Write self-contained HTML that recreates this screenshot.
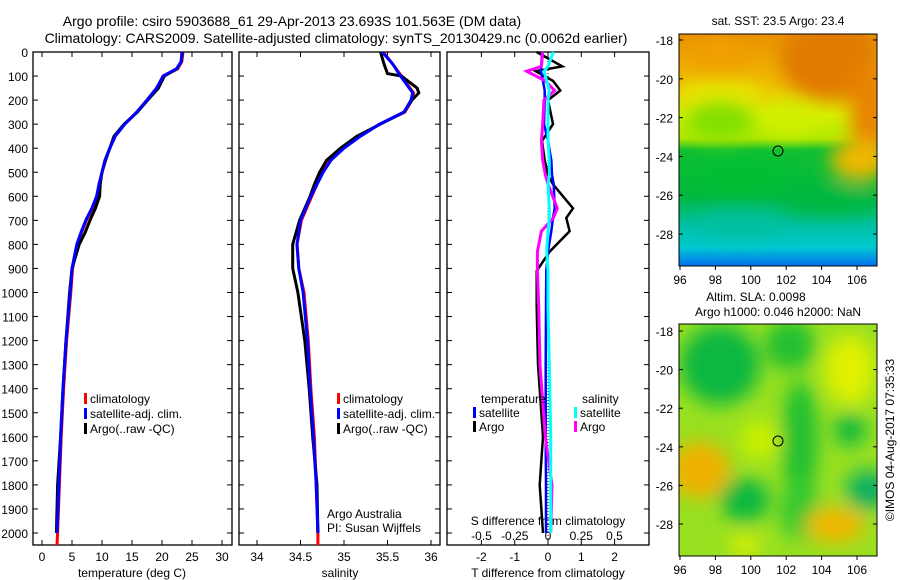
<!DOCTYPE html>
<html><head><meta charset="utf-8"><style>
body{margin:0;background:#fff;}
svg{display:block;font-family:"Liberation Sans",sans-serif;}
</style></head><body>
<svg id="c" width="900" height="580" viewBox="0 0 900 580">
<defs>
<filter id="bl" x="-20%" y="-20%" width="140%" height="140%"><feGaussianBlur stdDeviation="9"/></filter>
<clipPath id="m1"><rect x="679" y="34" width="198" height="232"/></clipPath>
<clipPath id="m2"><rect x="679" y="324" width="198" height="232"/></clipPath>
<linearGradient id="sst" x1="0" y1="0" x2="0" y2="1">
<stop offset="0" stop-color="#e89000"/><stop offset="0.2" stop-color="#f0b800"/><stop offset="0.35" stop-color="#d8f000"/><stop offset="0.45" stop-color="#b0e800"/><stop offset="0.5" stop-color="#10c030"/><stop offset="0.7" stop-color="#00b840"/><stop offset="0.82" stop-color="#00c0a0"/><stop offset="0.92" stop-color="#00c8d0"/><stop offset="1" stop-color="#0070f0"/>
</linearGradient>
</defs>
<g font-size="14" fill="#000" text-anchor="middle">
<text x="292" y="26">Argo profile: csiro 5903688_61 29-Apr-2013 23.693S 101.563E (DM data)</text>
<text x="336" y="43">Climatology: CARS2009. Satellite-adjusted climatology: synTS_20130429.nc (0.0062d earlier)</text>
</g>
<g id="plots"></g>
<g>
<text x="778" y="25" font-size="12" text-anchor="middle">sat. SST: 23.5 Argo: 23.4</text>
<g clip-path="url(#m1)">
<rect x="679" y="34" width="198" height="232" fill="url(#sst)"/>
<g filter="url(#bl)">
<ellipse cx="830" cy="60" rx="50" ry="40" fill="#e07a00"/>
<ellipse cx="870" cy="110" rx="20" ry="50" fill="#e88400"/>
<ellipse cx="720" cy="60" rx="30" ry="20" fill="#f0a000"/>
<ellipse cx="720" cy="95" rx="40" ry="15" fill="#e8e800"/>
<ellipse cx="720" cy="120" rx="35" ry="20" fill="#80e000"/>
<ellipse cx="790" cy="120" rx="25" ry="15" fill="#d0f000"/>
<ellipse cx="860" cy="160" rx="30" ry="20" fill="#f0b800"/>
<ellipse cx="830" cy="200" rx="50" ry="14" fill="#00b840"/>
<ellipse cx="740" cy="175" rx="50" ry="14" fill="#00c030"/>
<ellipse cx="740" cy="225" rx="40" ry="12" fill="#00c0a0"/>
</g>
</g>
<rect x="679" y="34" width="198" height="232" fill="none" stroke="#000"/>
<circle cx="778" cy="151" r="5" fill="none" stroke="#000"/>
</g>
<g>
<text x="756" y="301" font-size="12" text-anchor="middle">Altim. SLA: 0.0098</text>
<text x="778" y="316" font-size="12" text-anchor="middle">Argo h1000: 0.046 h2000: NaN</text>
<g clip-path="url(#m2)">
<rect x="679" y="324" width="198" height="232" fill="#98e020"/>
<g filter="url(#bl)">
<ellipse cx="720" cy="365" rx="40" ry="40" fill="#10b840"/>
<ellipse cx="790" cy="345" rx="25" ry="25" fill="#20c030"/>
<ellipse cx="800" cy="440" rx="18" ry="60" fill="#20c030"/>
<ellipse cx="800" cy="510" rx="20" ry="30" fill="#30c830"/>
<ellipse cx="850" cy="370" rx="25" ry="35" fill="#e0f000"/>
<ellipse cx="850" cy="430" rx="16" ry="16" fill="#10b840"/>
<ellipse cx="868" cy="490" rx="22" ry="20" fill="#10b060"/>
<ellipse cx="700" cy="470" rx="30" ry="28" fill="#f0b000"/>
<ellipse cx="745" cy="500" rx="25" ry="22" fill="#10b840"/>
<ellipse cx="835" cy="525" rx="30" ry="18" fill="#f0b800"/>
<ellipse cx="760" cy="440" rx="20" ry="20" fill="#c8f000"/>
<ellipse cx="745" cy="545" rx="15" ry="10" fill="#e0f000"/>
</g>
</g>
<rect x="679" y="324" width="198" height="232" fill="none" stroke="#000"/>
<circle cx="778" cy="441" r="5" fill="none" stroke="#000"/>
</g>
<text transform="translate(894,440) rotate(-90)" font-size="12" text-anchor="middle">©IMOS 04-Aug-2017 07:35:33</text>
</svg>
<script>
const depthT = [0,40,70,100,150,200,250,300,350,400,450,500,550,600,650,700,750,800,850,900,1000,1200,1400,1600,1800,2000];
const tempClim = [23.5,23.3,22.6,20.2,19.1,17.5,15.8,13.8,12.2,11.3,10.5,10.0,9.5,9.2,8.4,7.4,6.6,5.9,5.5,5.1,4.8,4.1,3.6,3.2,2.9,2.6];
const tempSat  = [23.3,23.2,22.4,20.2,19.1,17.5,15.8,13.8,12.2,11.3,10.5,10.0,9.5,9.1,8.3,7.3,6.5,5.8,5.4,5.0,4.7,4.0,3.5,3.1,2.8,2.5];
const tempArgo = [23.4,23.2,22.5,20.4,19.4,17.6,15.9,13.7,12.0,11.3,10.6,10.0,9.7,9.6,8.9,8.0,7.2,6.2,5.6,5.0,4.6,4.0,3.5,3.1,2.6,2.4];
const depthS = [0,50,90,100,150,170,200,250,300,350,400,450,500,550,600,700,800,900,1000,1200,1400,1600,1800,2000];
const salClim = [35.45,35.56,35.64,35.66,35.76,35.80,35.78,35.70,35.41,35.18,34.99,34.84,34.75,34.69,34.63,34.51,34.46,34.48,34.54,34.59,34.62,34.66,34.68,34.70];
const salSat  = [35.44,35.56,35.63,35.65,35.75,35.79,35.77,35.69,35.41,35.19,35.00,34.85,34.76,34.69,34.62,34.50,34.46,34.48,34.53,34.58,34.61,34.65,34.68,34.70];
const salArgo = [35.42,35.46,35.50,35.66,35.84,35.86,35.78,35.69,35.42,35.15,34.96,34.80,34.72,34.66,34.61,34.49,34.41,34.41,34.47,34.55,34.60,34.64,34.69,34.70];
const depthD = [0,60,80,120,160,200,300,370,450,510,550,650,690,745,830,910,1060,1300,1600,1800,2000];
const tDiffArgo = [-0.34,0.43,-0.37,0.15,0.37,0.0,0.15,-0.18,-0.1,0.0,0.15,0.75,0.55,0.65,0.05,-0.34,-0.34,-0.3,-0.15,-0.25,-0.15];
const tDiffSat  = [-0.18,-0.2,-0.22,-0.15,-0.1,-0.1,-0.12,0.0,0.1,0.12,0.17,0.2,0.15,0.1,0.0,-0.05,-0.06,-0.07,-0.07,-0.06,-0.06];
const sDiffArgo = [-0.04,-0.05,-0.16,-0.02,0.05,-0.03,-0.04,-0.05,-0.04,-0.02,0.0,0.07,0.04,-0.05,-0.08,-0.08,-0.07,-0.06,-0.02,0.03,0.02];
const sDiffSat  = [0.04,0.0,-0.03,-0.01,0.01,0.0,0.0,0.0,0.01,0.01,0.0,0.01,0.01,0.0,-0.01,0.0,0.0,0.01,0.02,0.02,0.02];
const tTicks = [0,5,10,15,20,25,30];
const sTicks = [34,34.5,35,35.5,36];
const dTicks = [-2,-1,0,1,2];
const sdTicks = [-0.5,-0.25,0,0.25,0.5];
const depthTicks = [0,100,200,300,400,500,600,700,800,900,1000,1100,1200,1300,1400,1500,1600,1700,1800,1900,2000];
const latTicks = [-18,-20,-22,-24,-26,-28];
const lonTicks = [96,98,100,102,104,106];

const NS='http://www.w3.org/2000/svg';
const g=document.getElementById('plots');
const yD = d => 52 + d*0.2405;
const xT = v => 42 + v*6;
const xS = v => 257 + (v-34)*87;
const xTD = v => 548 + v*33.3;
const xSD = v => 548 + v*133;
function el(tag,attrs,parent,text){const e=document.createElementNS(NS,tag);for(const k in attrs)e.setAttribute(k,attrs[k]);if(text!==undefined)e.textContent=text;(parent||g).appendChild(e);return e;}
function panel(name,x0,x1,y0,y1){
  const r=el('rect',{x:x0,y:y0,width:x1-x0,height:y1-y0,fill:'none',stroke:'#000','stroke-width':1.3});
  
  
  depthTicks.forEach(d=>{const y=yD(d);
    el('line',{x1:x0,x2:x0+5,y1:y,y2:y,stroke:'#000'});
    el('line',{x1:x1-5,x2:x1,y1:y,y2:y,stroke:'#000'});});
}
function xticks(ticks,fx,y0,y1,labelY){
  ticks.forEach(v=>{const x=fx(v);
    el('line',{x1:x,x2:x,y1:y1,y2:y1-5,stroke:'#000'});
    el('line',{x1:x,x2:x,y1:y0,y2:y0+5,stroke:'#000'});
    const t=el('text',{x:x,y:labelY,'font-size':12,'text-anchor':'middle'},g,String(v));
    
    });
}
function line(xs,ds,fx,color,w,name){
  const pts=xs.map((v,i)=>fx(v).toFixed(1)+','+yD(ds[i]).toFixed(1)).join(' ');
  const p=el('polyline',{points:pts,fill:'none',stroke:color,'stroke-width':w});
  
  
}
const Y0=52,Y1=545;
panel('temperature-panel',33,232,Y0,Y1);
panel('salinity-panel',239,440,Y0,Y1);
panel('difference-panel',447,649,Y0,Y1);
depthTicks.forEach(d=>{const t=el('text',{x:28,y:yD(d)+5,'font-size':12,'text-anchor':'end'},g,String(d));
  
  });
xticks(tTicks,xT,Y0,Y1,561);
xticks(sTicks,xS,Y0,Y1,561);
xticks(dTicks,xTD,Y0,Y1,561);
sdTicks.forEach(v=>{const t=el('text',{x:xSD(v),y:540,'font-size':12,'text-anchor':'middle'},g,String(v));
  
  });
[['temperature (deg C)',132],['salinity',340],['T difference from climatology',548]].forEach(a=>{
  const t=el('text',{x:a[1],y:577,'font-size':12,'text-anchor':'middle'},g,a[0]);
  
  });
const sdl=el('text',{x:548,y:525,'font-size':12,'text-anchor':'middle'},g,'S difference from climatology');



el('line',{x1:548,x2:548,y1:Y0,y2:Y1,stroke:'#000','stroke-dasharray':'1,2'});

line(tempClim.concat([2.5]),depthT.concat([2050]),xT,'#f00',3,'temp-climatology-line');
line(tempArgo,depthT,xT,'#000',3,'temp-argo-line');
line(tempSat,depthT,xT,'#00f',3,'temp-satellite-line');
line(salClim.concat([34.70]),depthS.concat([2050]),xS,'#f00',3,'sal-climatology-line');
line(salArgo,depthS,xS,'#000',3,'sal-argo-line');
line(salSat,depthS,xS,'#00f',3,'sal-satellite-line');
line(tDiffArgo,depthD,xTD,'#000',2.5,'tdiff-argo-line');
line(tDiffSat,depthD,xTD,'#00f',2.5,'tdiff-satellite-line');
line(sDiffArgo,depthD,xSD,'#f0f',3,'sdiff-argo-line');
line(sDiffSat,depthD,xSD,'#0ff',3,'sdiff-satellite-line');

function leg(x,y,color,label){
  el('rect',{x:x,y:y-10,width:3,height:11,fill:color});
  const t=el('text',{x:x+6,y:y,'font-size':12},g,label);
  
  
}
[84,337].forEach(lx=>{
  leg(lx,403,'#f00','climatology');
  leg(lx,418,'#00f','satellite-adj. clim.');
  leg(lx,433,'#000','Argo(..raw -QC)');
});
const tt=el('text',{x:481,y:403,'font-size':12},g,'temperature');

const st=el('text',{x:582,y:403,'font-size':12},g,'salinity');

leg(473,417,'#00f','satellite');
leg(473,431,'#000','Argo');
leg(574,417,'#0ff','satellite');
leg(574,431,'#f0f','Argo');
const a1=el('text',{x:327,y:518,'font-size':12},g,'Argo Australia');

const a2=el('text',{x:327,y:532,'font-size':12},g,'PI: Susan Wijffels');


const svg=document.getElementById('c');
function mapAxes(top,lat18y,lat28y){
  const fy=l=>lat18y+(-18-l)*(lat28y-lat18y)/10;
  latTicks.forEach(l=>{const y=fy(l);
    el('line',{x1:679,x2:683,y1:y,y2:y,stroke:'#000'},svg);
    el('line',{x1:873,x2:877,y1:y,y2:y,stroke:'#000'},svg);
    const t=el('text',{x:673,y:y+5,'font-size':12,'text-anchor':'end'},svg,String(l));
    
    });
  const bot=top+232;
  lonTicks.forEach(o=>{const x=680+(o-96)*17.7;
    el('line',{x1:x,x2:x,y1:bot,y2:bot+4,stroke:'#000'},svg);
    const t=el('text',{x:x,y:bot+18,'font-size':12,'text-anchor':'middle'},svg,String(o));
    
    });
}
mapAxes(34,40,234);
mapAxes(324,331,524);
</script>
</body></html>
